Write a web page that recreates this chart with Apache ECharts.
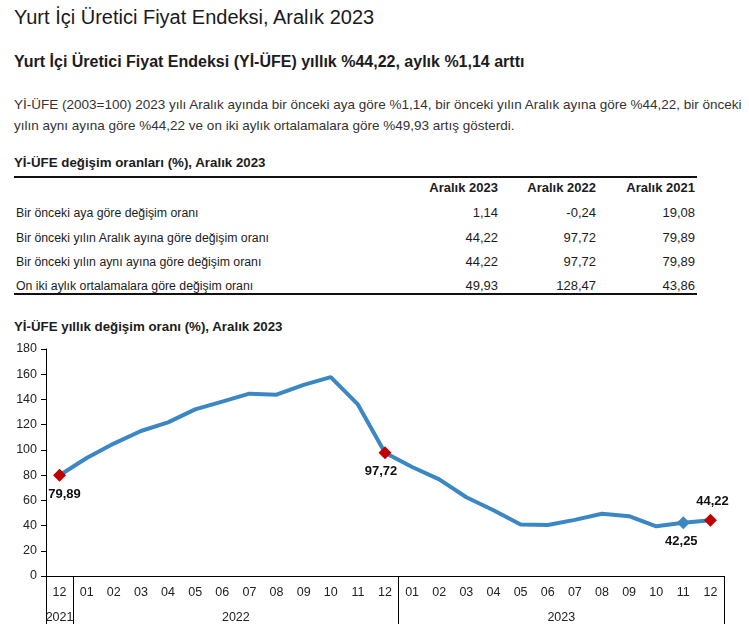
<!DOCTYPE html>
<html>
<head>
<meta charset="utf-8">
<script src="https://cdn.jsdelivr.net/npm/echarts@6/dist/echarts.min.js"></script>
<style>
  body { margin: 0; background: #fff; color: #1c1c1c;
    font-family: 'Liberation Sans', Arial, sans-serif; }
  .t { position: absolute; left: 14px; white-space: nowrap; }
  .h1 { top: 7px; font-size: 20px; line-height: 20px; color: #1a1a1a; }
  .h2 { top: 52px; font-size: 16px; line-height: 20px; font-weight: bold; }
  .p { top: 94px; font-size: 13.5px; line-height: 21px; color: #333; }
  .h3 { top: 155px; font-size: 13.3px; line-height: 16px; font-weight: bold; }
  .h4 { top: 319px; font-size: 13.3px; line-height: 16px; font-weight: bold; }
  .rule { position: absolute; left: 14px; width: 683px; height: 2px; background: #111; }
  .cell { position: absolute; font-size: 13px; line-height: 16px; white-space: nowrap; }
  #chart { position: absolute; left: 0; top: 336px; width: 749px; height: 304px; }
</style>
</head>
<body>
<div class="t h1">Yurt İçi Üretici Fiyat Endeksi, Aralık 2023</div>
<div class="t h2">Yurt İçi Üretici Fiyat Endeksi (Yİ-ÜFE) yıllık %44,22, aylık %1,14 arttı</div>
<div class="t p">Yİ-ÜFE (2003=100) 2023 yılı Aralık ayında bir önceki aya göre %1,14, bir önceki yılın Aralık ayına göre %44,22, bir önceki<br>yılın aynı ayına göre %44,22 ve on iki aylık ortalamalara göre %49,93 artış gösterdi.</div>
<div class="t h3">Yİ-ÜFE değişim oranları (%), Aralık 2023</div>
<div class="rule" style="top:176px"></div>
<div class="rule" style="top:293px"></div>
<div id="table"></div>
<div class="t h4">Yİ-ÜFE yıllık değişim oranı (%), Aralık 2023</div>
<div id="chart"></div>
<script>
// table
const tableCols = ['Aralık 2023', 'Aralık 2022', 'Aralık 2021']
const tableRows = [
  'Bir önceki aya göre değişim oranı',
  'Bir önceki yılın Aralık ayına göre değişim oranı',
  'Bir önceki yılın aynı ayına göre değişim oranı',
  'On iki aylık ortalamalara göre değişim oranı',
]
const table2023 = ['1,14', '44,22', '44,22', '49,93']
const table2022 = ['-0,24', '97,72', '97,72', '128,47']
const table2021 = ['19,08', '79,89', '79,89', '43,86']

// chart
const months = ['12', '01', '02', '03', '04', '05', '06', '07', '08', '09', '10', '11', '12',
  '01', '02', '03', '04', '05', '06', '07', '08', '09', '10', '11', '12']
const years = ['2021', '2022', '2023']
const yearLabelAt = [0.5, 7, 19]
const yearBounds = [0, 1, 13, 25]
const annual = [79.89, 93.53, 105.01, 114.97, 121.82, 132.16, 138.31, 144.61, 143.75, 151.50, 157.69, 136.02, 97.72,
  86.46, 76.61, 62.45, 52.11, 40.76, 40.42, 44.50, 49.41, 47.44, 39.39, 42.25, 44.22]

const tableEl = document.getElementById('table')
const colRight = [749 - 498, 749 - 596, 749 - 695]
const rowY = [205, 230, 254, 278]
const addCell = (text, style) => {
  const d = document.createElement('div')
  d.className = 'cell'
  d.textContent = text
  Object.assign(d.style, style)
  tableEl.appendChild(d)
}
tableCols.forEach((c, i) => addCell(c, { right: colRight[i] + 'px', top: '180px', fontWeight: 'bold' }))
tableRows.forEach((r, j) => {
  addCell(r, { left: '16px', top: rowY[j] + 'px', fontSize: '12.3px' })
  ;[table2023, table2022, table2021].forEach((col, i) => addCell(col[j], { right: colRight[i] + 'px', top: rowY[j] + 'px' }))
})

const fmt = (v) => v.toFixed(2).replace('.', ',')
const marked = {
  0: { color: '#c00000', pos: 'bottom', dx: 5 },
  12: { color: '#c00000', pos: 'bottom', dx: -4 },
  23: { color: '#3a87c4', pos: 'bottom', dx: -2 },
  24: { color: '#c00000', pos: 'top', dx: 2 },
}
const seriesData = annual.map((v, i) => {
  const m = marked[i]
  if (!m) return v
  return {
    value: v,
    symbol: 'diamond',
    symbolSize: 13,
    itemStyle: { color: m.color },
    label: {
      show: true,
      position: m.pos,
      distance: 6,
      offset: [m.dx, 0],
      formatter: () => fmt(v),
      fontWeight: 'bold',
      fontSize: 13,
      color: '#111',
    },
  }
})

const FONT = "'Liberation Sans', Arial, sans-serif"
const chart = echarts.init(document.getElementById('chart'))
chart.setOption({
  animation: false,
  textStyle: { fontFamily: FONT },
  grid: { left: 46, right: 25, top: 13, bottom: 64 },
  xAxis: [
    {
      type: 'category',
      data: months,
      boundaryGap: true,
      axisLine: { lineStyle: { color: '#000', width: 1 } },
      axisTick: { interval: 0, length: 24, lineStyle: { color: '#000' } },
      axisLabel: { interval: 0, margin: 10, fontSize: 12.5, color: '#222', fontFamily: FONT },
    },
    {
      type: 'value',
      position: 'bottom',
      min: 0,
      max: 25,
      axisLine: { show: false },
      splitLine: { show: false },
      axisTick: { show: true, customValues: yearBounds, length: 48, lineStyle: { color: '#000' } },
      axisLabel: {
        customValues: yearLabelAt,
        margin: 35,
        fontSize: 12.5,
        color: '#222',
        fontFamily: FONT,
        formatter: (v) => years[yearLabelAt.indexOf(v)] || '',
      },
    },
  ],
  yAxis: {
    type: 'value',
    min: 0,
    max: 180,
    interval: 20,
    axisLine: { show: true, lineStyle: { color: '#000' } },
    axisTick: { show: true, length: 5, lineStyle: { color: '#000' } },
    splitLine: { show: false },
    axisLabel: { margin: 9, fontSize: 12.5, color: '#222', fontFamily: FONT },
  },
  series: [
    {
      type: 'line',
      xAxisIndex: 0,
      data: seriesData,
      symbol: 'none',
      showSymbol: true,
      lineStyle: { color: '#3a87c4', width: 4 },
      itemStyle: { color: '#3a87c4' },
      emphasis: { disabled: true },
    },
  ],
})
</script>
</body>
</html>
